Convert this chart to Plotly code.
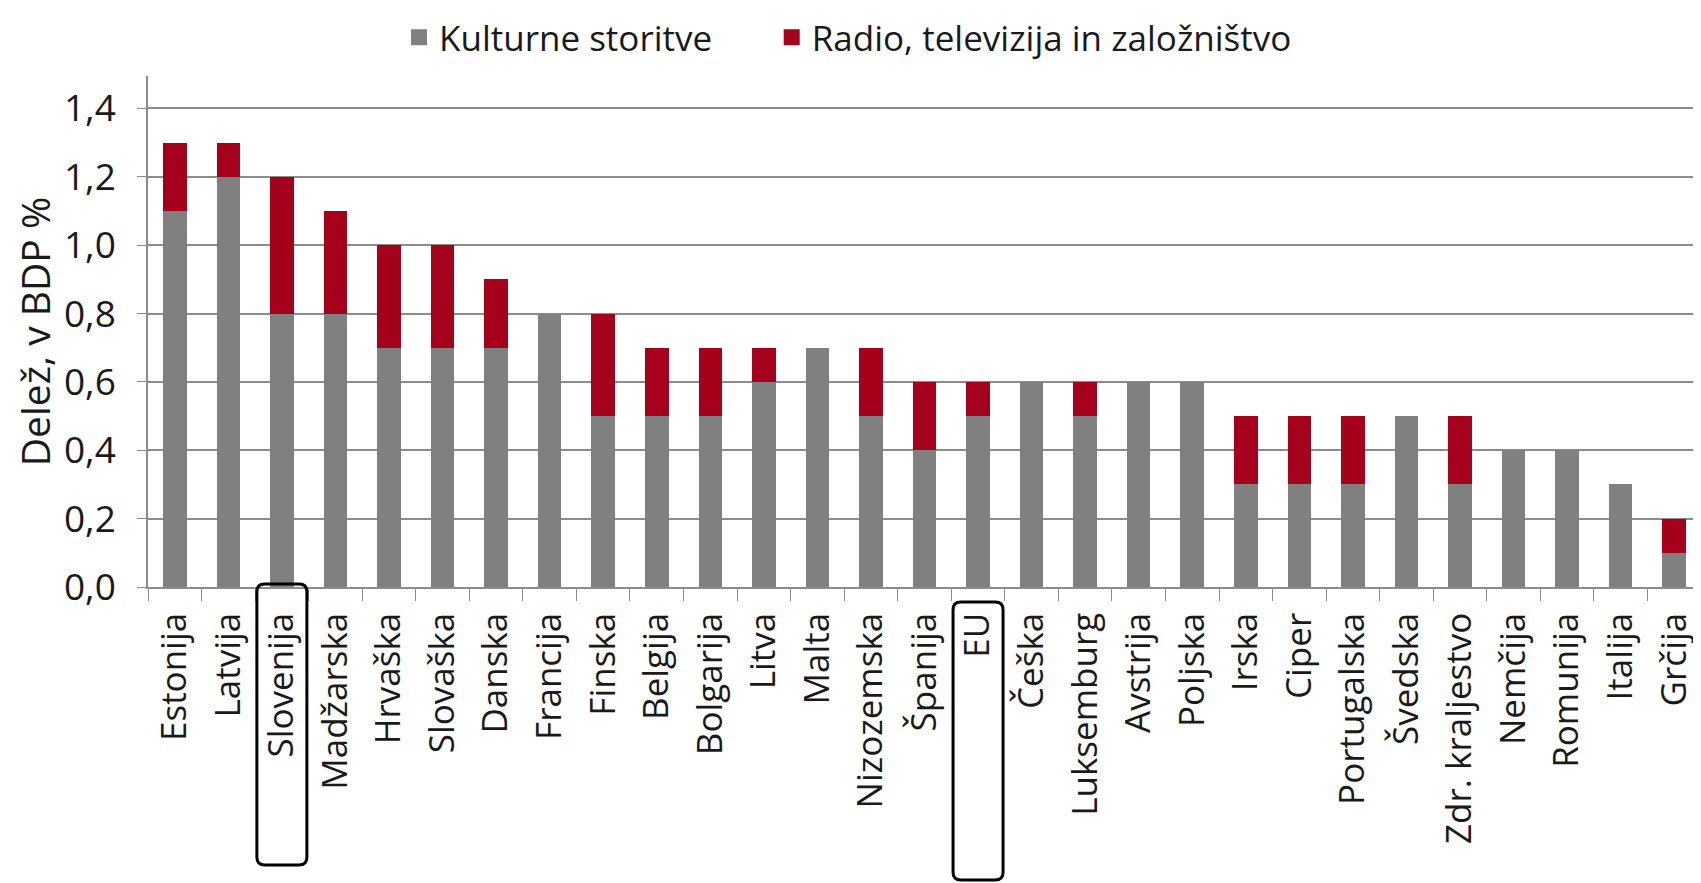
import plotly.graph_objects as go

countries = ["Estonija", "Latvija", "Slovenija", "Madžarska", "Hrvaška", "Slovaška",
             "Danska", "Francija", "Finska", "Belgija", "Bolgarija", "Litva", "Malta",
             "Nizozemska", "Španija", "EU", "Češka", "Luksemburg", "Avstrija", "Poljska",
             "Irska", "Ciper", "Portugalska", "Švedska", "Zdr. kraljestvo", "Nemčija",
             "Romunija", "Italija", "Grčija"]
kulturne = [1.1, 1.2, 0.8, 0.8, 0.7, 0.7, 0.7, 0.8, 0.5, 0.5, 0.5, 0.6, 0.7, 0.5, 0.4,
            0.5, 0.6, 0.5, 0.6, 0.6, 0.3, 0.3, 0.3, 0.5, 0.3, 0.4, 0.4, 0.3, 0.1]
radio_tv = [0.2, 0.1, 0.4, 0.3, 0.3, 0.3, 0.2, 0.0, 0.3, 0.2, 0.2, 0.1, 0.0, 0.2, 0.2,
            0.1, 0.0, 0.1, 0.0, 0.0, 0.2, 0.2, 0.2, 0.0, 0.2, 0.0, 0.0, 0.0, 0.1]
highlighted = ["Slovenija", "EU"]

FONT = "Open Sans"
GRAY = "#808080"
RED = "#a5001c"
AXIS = "#8c8c8c"

# page body has an 8px margin, so the figure is a bit smaller than the window
OFF = 8
W, H = 1701 - OFF, 883 - OFF
L, R, T, B = 148 - OFF, 0, 76 - OFF, H - (587 - OFF)

fig = go.Figure()
fig.add_trace(go.Bar(x=countries, y=kulturne, name="Kulturne storitve", showlegend=False,
                     marker=dict(color=GRAY, line_width=0), width=0.44))
fig.add_trace(go.Bar(x=countries, y=radio_tv, name="Radio, televizija in založništvo",
                     showlegend=False, marker=dict(color=RED, line_width=0), width=0.44))
# legend entries with larger square symbols
for name, col in [("Kulturne storitve" + "\u00a0" * 6, GRAY),
                  ("Radio, televizija in založništvo", RED)]:
    fig.add_trace(go.Scatter(x=[None], y=[None], mode="markers", name=name,
                             marker=dict(symbol="square", size=20, color=col)))

# rounded boxes around highlighted labels (paper coords)
n = len(countries)
pw = W - L - R
ph = H - T - B


def px2paper(xp, yp):
    # screen pixel -> paper coords
    return (xp - OFF - L) / pw, (H - B - (yp - OFF)) / ph


boxes = {"Slovenija": (584, 865), "EU": (602, 880)}
for c in highlighted:
    i = countries.index(c)
    cx = OFF + L + (i + 0.5) * pw / n
    x0, y0 = px2paper(cx - 25, boxes[c][0])
    x1, y1 = px2paper(cx + 25, boxes[c][1])
    rr = 0.005
    ry = rr * pw / ph
    path = (f"M {x0 + rr},{y0} L {x1 - rr},{y0} Q {x1},{y0} {x1},{y0 - ry} "
            f"L {x1},{y1 + ry} Q {x1},{y1} {x1 - rr},{y1} L {x0 + rr},{y1} "
            f"Q {x0},{y1} {x0},{y1 + ry} L {x0},{y0 - ry} Q {x0},{y0} {x0 + rr},{y0} Z")
    fig.add_shape(type="path", path=path, xref="paper", yref="paper",
                  line=dict(color="black", width=3))

fig.update_layout(
    width=W, height=H,
    barmode="stack",
    separators=",.",
    plot_bgcolor="white", paper_bgcolor="white",
    margin=dict(l=L, r=R, t=T, b=B, autoexpand=False),
    font=dict(family=FONT, size=36, color="#1a1a1a"),
    showlegend=True,
    legend=dict(orientation="h", xref="container", x=391 / W, xanchor="left",
                yref="container", y=1, yanchor="top",
                font=dict(size=35), itemwidth=30, traceorder="normal"),
    xaxis=dict(range=[-0.5, n - 0.5], showline=True, linecolor=AXIS, linewidth=1.5,
               ticks="outside", tickson="boundaries", ticklen=12, tickcolor=AXIS,
               tickangle=-90, tickfont=dict(size=35), showgrid=False, automargin=False,
               ticklabelstandoff=10),
    yaxis=dict(range=[0, 1.495], dtick=0.2, tickformat=".1f", showline=True,
               linecolor=AXIS, linewidth=1.5, ticks="outside", ticklen=9,
               tickcolor=AXIS, showgrid=True, gridcolor=AXIS, gridwidth=1.5,
               zeroline=False, tickfont=dict(size=37), automargin=False,
               ticklabelstandoff=14,
               title=dict(text="Delež, v BDP %", font=dict(size=39), standoff=28)),
)

fig.write_html("out.html")
